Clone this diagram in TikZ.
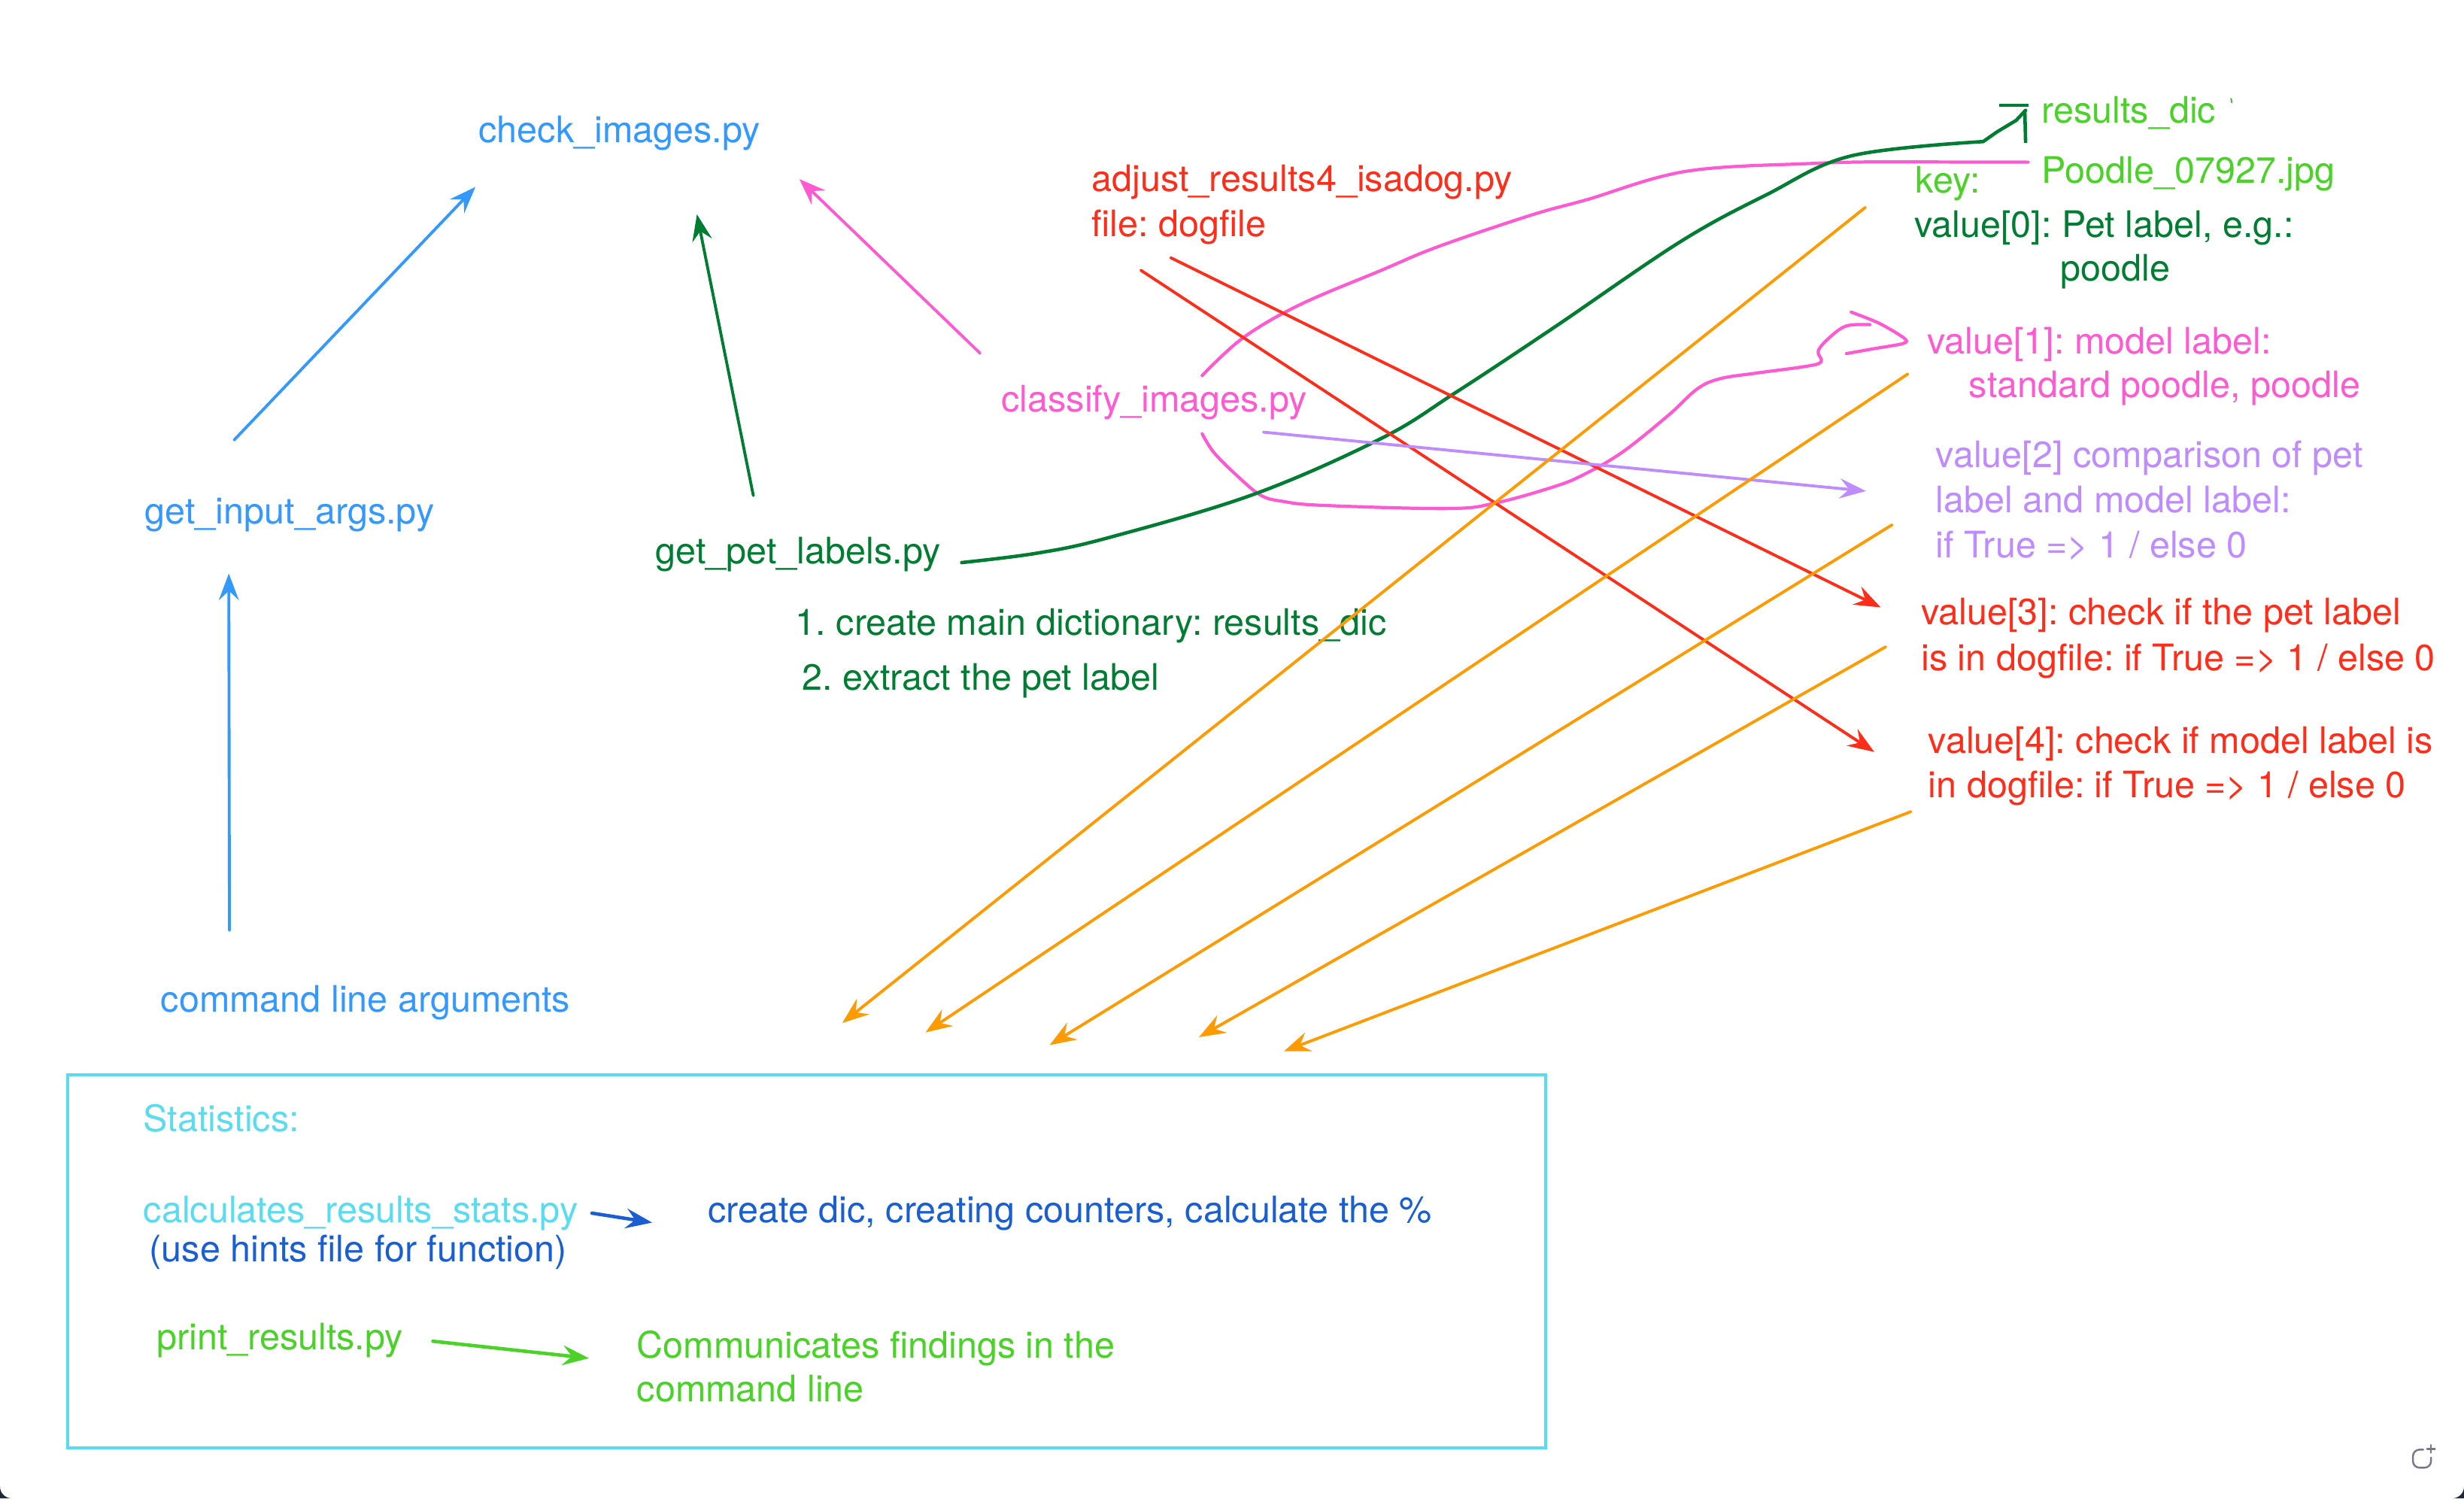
\documentclass[tikz,border=0pt]{standalone}
\usepackage{fontspec}
\setmainfont{TeX Gyre Heros}
\frenchspacing
\usetikzlibrary{arrows.meta}
\definecolor{cblue}{RGB}{51,153,255}
\definecolor{cdgreen}{RGB}{0,125,50}
\definecolor{cpink}{RGB}{255,90,210}
\definecolor{cred}{RGB}{255,45,25}
\definecolor{clgreen}{RGB}{75,210,40}
\definecolor{cpurple}{RGB}{190,140,255}
\definecolor{corange}{RGB}{255,155,0}
\definecolor{ccyan}{RGB}{90,220,240}
\definecolor{cnavy}{RGB}{25,95,210}
\definecolor{cicon}{RGB}{120,120,140}
\definecolor{cdark}{RGB}{30,40,55}
\begin{document}
\begin{tikzpicture}[x=0.020893cm,y=-0.020893cm,
  txt/.style={anchor=base west,inner sep=0pt,font=\fontsize{13.8}{16.9}\selectfont},
  arr/.style={line width=1.1pt,line cap=round,-{Stealth[length=10pt,width=7.5pt,inset=3.5pt]}},
  pen/.style={line width=1.2pt,line cap=round,line join=round}]
\useasboundingbox (0,0) rectangle (1568,953.5);
\fill[white] (0,0) rectangle (1568,953.5);
\fill[cdark] (0,953.5) -- (0,946) arc[start angle=180,end angle=90,radius=7.5] -- cycle;
\fill[cdark] (1568,953.5) -- (1568,946) arc[start angle=0,end angle=90,radius=7.5] -- cycle;

% text nodes
\node[txt,cblue] (check) at (304.4,90.5) {check\_images.py};
\node[txt,cblue] (gia) at (92,333.6) {get\_input\_args.py};
\node[txt,cdgreen] (gpl) at (417,358.7) {get\_pet\_labels.py};
\node[txt,cpink] (cls) at (637,262) {classify\_images.py};
\node[txt,cred] (adj) at (694.4,121.6) {adjust\_results4\_isadog.py};
\node[txt,cred] (adjb) at (694.4,150.6) {file: dogfile};
\node[txt,cblue] (cla) at (102,644) {command line arguments};
\node[txt,cdgreen] (s1) at (506,404) {1. create main dictionary: results\_dic};
\node[txt,cdgreen] (s2) at (510,439) {2. extract the pet label};
\node[txt,clgreen] (rd) at (1299,78.2) {results\_dic};
\node[txt,clgreen] (pdl) at (1299,116.5) {Poodle\_07927.jpg};
\node[txt,clgreen] (key) at (1218.6,122.9) {key:};
\node[txt,cdgreen] (v0a) at (1218,150.8) {value[0]: Pet label, e.g.:};
\node[txt,cdgreen] (v0b) at (1311,178.7) {poodle};
\node[txt,cpink] (v1a) at (1226,225) {value[1]: model label:};
\node[txt,cpink] (v1b) at (1252.7,252.9) {standard poodle, poodle};
\node[txt,cpurple] (v2a) at (1231.6,297.7) {value[2] comparison of pet};
\node[txt,cpurple] (v2b) at (1231.6,326) {label and model label:};
\node[txt,cpurple] (v2c) at (1231.6,354.7) {if True => 1 / else 0};
\node[txt,cred] (v3a) at (1222.3,397.6) {value[3]: check if the pet label};
\node[txt,cred] (v3b) at (1222.3,426.8) {is in dogfile: if True => 1 / else 0};
\node[txt,cred] (v4a) at (1226.8,479.3) {value[4]: check if model label is};
\node[txt,cred] (v4b) at (1226.8,507.7) {in dogfile: if True => 1 / else 0};

% statistics box
\draw[ccyan,line width=1.2pt] (43,684) rectangle (983.6,921.5);
\node[txt,ccyan] (stat) at (91,720.3) {Statistics:};
\node[txt,ccyan] (crs) at (91,778) {calculates\_results\_stats.py};
\node[txt,cnavy] (hint) at (94.8,802.8) {(use hints file for function)};
\node[txt,cnavy] (cdic) at (450.4,778) {create dic, creating counters, calculate the \%};
\node[txt,clgreen] (pr) at (99.3,858.7) {print\_results.py};
\node[txt,clgreen] (comm) at (405,864.3) {Communicates findings in the};
\node[txt,clgreen] (comm2) at (405,892) {command line};

% connector end points
\coordinate (a1s) at (149,280);   \coordinate (a1e) at (302.5,119);
\coordinate (a2s) at (146,592);   \coordinate (a2e) at (145.6,365);
\coordinate (a3s) at (479.4,315.4); \coordinate (a3e) at (443.5,136.4);
\coordinate (a4s) at (623.7,224.8); \coordinate (a4e) at (508.7,114);
\coordinate (r1s) at (745,164);   \coordinate (r1e) at (1196.8,386.5);
\coordinate (r2s) at (726,172);   \coordinate (r2e) at (1192.7,478.5);
\coordinate (ps) at (804,275);    \coordinate (pe) at (1187.5,312.5);
\coordinate (o1s) at (1187,132);  \coordinate (o1e) at (536,651);
\coordinate (o2s) at (1214,238);  \coordinate (o2e) at (589,657);
\coordinate (o3s) at (1204,334);  \coordinate (o3e) at (668,665);
\coordinate (o4s) at (1200,411.6); \coordinate (o4e) at (763,660);
\coordinate (o5s) at (1216,516.5); \coordinate (o5e) at (817,669);
\coordinate (bs) at (376.7,772);  \coordinate (be) at (415,778);
\coordinate (gs) at (275.5,853.5); \coordinate (ge) at (374.8,864.3);

\draw[arr,cblue] (a1s) -- (a1e);
\draw[arr,cblue] (a2s) -- (a2e);
\draw[arr,cdgreen] (a3s) -- (a3e);
\draw[arr,cpink] (a4s) -- (a4e);

% pink loop around classify_images
\draw[pen,cpink] plot[smooth,tension=0.6] coordinates {(765,239) (791,215) (827,194) (879,172) (915,157) (974,137) (1010,127) (1073,109) (1153,104) (1197,103)} -- (1290.6,103.2);
\draw[pen,cpink] plot[smooth,tension=0.6] coordinates {(765,276) (772.5,288) (787,302.5) (802,315) (816,319) (842,321.6) (922,323.6) (952,320) (988,310) (1006.6,302.6) (1032,288) (1062,264) (1080,247.5) (1094.5,241) (1117,237.5) (1150,233) (1159,230) (1157,223.4) (1164,215) (1175,207.4) (1190,206.6)};
\draw[pen,cpink] plot[smooth,tension=0.5] coordinates {(1178,198.6) (1196,205.8) (1212,215.4) (1211,218.6) (1193,221.8) (1175,225)};

% green curve to results_dic
\draw[cdgreen,line width=1.3pt,line cap=round,line join=round] plot[smooth,tension=0.6] coordinates {(612,358) (660,352) (706,342) (798,314.5) (879,279) (926,250) (988,209) (1069,154) (1124,124) (1178,99.2) (1262,90.1)} -- (1271,83.8) -- (1283,76.6) -- (1289,70.2);
\draw[cdgreen,line width=1.3pt] (1272,67) -- (1291,67);
\draw[cdgreen,line width=1.3pt] (1288.5,70) -- (1289,91);
\draw[clgreen!60!gray,line width=0.6pt] (1419.7,62.5) -- (1420.3,65.5);

\draw[arr,cred] (r1s) -- (r1e);
\draw[arr,cred] (r2s) -- (r2e);
\draw[arr,cpurple] (ps) -- (pe);

\draw[arr,corange] (o1s) -- (o1e);
\draw[arr,corange] (o2s) -- (o2e);
\draw[arr,corange] (o3s) -- (o3e);
\draw[arr,corange] (o4s) -- (o4e);
\draw[arr,corange] (o5s) -- (o5e);

\draw[arr,cnavy,line width=1.3pt] (bs) -- (be);
\draw[arr,clgreen,line width=1.3pt] (gs) -- (ge);

% small icon bottom right
\draw[cicon,line width=0.7pt,rounded corners=2.5,line cap=round] (1542,922.5) -- (1535.5,922.5) -- (1535.5,934) -- (1547,934) -- (1547,927.5);
\draw[cicon,line width=0.7pt,line cap=round] (1547,919.5) -- (1547,924.5) (1544.5,922) -- (1549.5,922);
\end{tikzpicture}
\end{document}
